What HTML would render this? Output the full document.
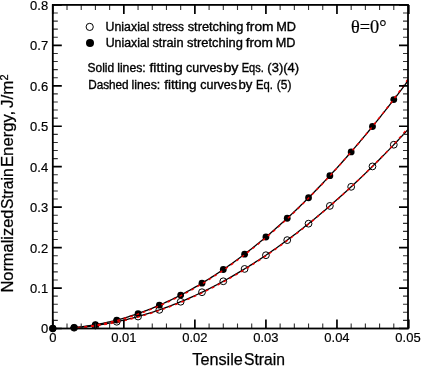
<!DOCTYPE html><html><head><meta charset="utf-8"><style>html,body{margin:0;padding:0;background:#fff;}svg{display:block}</style></head><body>
<svg width="421" height="366" viewBox="0 0 421 366">
<rect width="421" height="366" fill="#fff"/>
<circle cx="52.80" cy="328.50" r="3.4" fill="none" stroke="#000" stroke-width="1"/>
<circle cx="74.11" cy="327.74" r="3.4" fill="none" stroke="#000" stroke-width="1"/>
<circle cx="95.42" cy="325.49" r="3.4" fill="none" stroke="#000" stroke-width="1"/>
<circle cx="116.74" cy="321.75" r="3.4" fill="none" stroke="#000" stroke-width="1"/>
<circle cx="138.05" cy="316.53" r="3.4" fill="none" stroke="#000" stroke-width="1"/>
<circle cx="159.36" cy="309.86" r="3.4" fill="none" stroke="#000" stroke-width="1"/>
<circle cx="180.67" cy="301.75" r="3.4" fill="none" stroke="#000" stroke-width="1"/>
<circle cx="201.98" cy="292.22" r="3.4" fill="none" stroke="#000" stroke-width="1"/>
<circle cx="223.30" cy="281.27" r="3.4" fill="none" stroke="#000" stroke-width="1"/>
<circle cx="244.61" cy="268.93" r="3.4" fill="none" stroke="#000" stroke-width="1"/>
<circle cx="265.92" cy="255.21" r="3.4" fill="none" stroke="#000" stroke-width="1"/>
<circle cx="287.23" cy="240.12" r="3.4" fill="none" stroke="#000" stroke-width="1"/>
<circle cx="308.54" cy="223.68" r="3.4" fill="none" stroke="#000" stroke-width="1"/>
<circle cx="329.86" cy="205.91" r="3.4" fill="none" stroke="#000" stroke-width="1"/>
<circle cx="351.17" cy="186.82" r="3.4" fill="none" stroke="#000" stroke-width="1"/>
<circle cx="372.48" cy="166.42" r="3.4" fill="none" stroke="#000" stroke-width="1"/>
<circle cx="393.79" cy="144.73" r="3.4" fill="none" stroke="#000" stroke-width="1"/>
<circle cx="52.80" cy="328.50" r="3.4" fill="#000"/>
<circle cx="74.11" cy="327.55" r="3.4" fill="#000"/>
<circle cx="95.42" cy="324.73" r="3.4" fill="#000"/>
<circle cx="116.74" cy="320.05" r="3.4" fill="#000"/>
<circle cx="138.05" cy="313.54" r="3.4" fill="#000"/>
<circle cx="159.36" cy="305.20" r="3.4" fill="#000"/>
<circle cx="180.67" cy="295.08" r="3.4" fill="#000"/>
<circle cx="201.98" cy="283.17" r="3.4" fill="#000"/>
<circle cx="223.30" cy="269.52" r="3.4" fill="#000"/>
<circle cx="244.61" cy="254.13" r="3.4" fill="#000"/>
<circle cx="265.92" cy="237.02" r="3.4" fill="#000"/>
<circle cx="287.23" cy="218.23" r="3.4" fill="#000"/>
<circle cx="308.54" cy="197.76" r="3.4" fill="#000"/>
<circle cx="329.86" cy="175.64" r="3.4" fill="#000"/>
<circle cx="351.17" cy="151.88" r="3.4" fill="#000"/>
<circle cx="372.48" cy="126.52" r="3.4" fill="#000"/>
<circle cx="393.79" cy="99.57" r="3.4" fill="#000"/>
<path d="M70.56,327.84 L72.26,327.71 L73.95,327.57 L75.65,327.41 L77.34,327.25 L79.04,327.07 L80.73,326.88 L82.43,326.68 L84.13,326.46 L85.82,326.23 L87.52,326.00 L89.21,325.75 L90.91,325.49 L92.60,325.21 L94.30,324.93 L96.00,324.63 L97.69,324.32 L99.39,324.00 L101.08,323.67 L102.78,323.33 L104.47,322.97 L106.17,322.60 L107.86,322.22 L109.56,321.83 L111.26,321.43 L112.95,321.02 L114.65,320.59 L116.34,320.15 L118.04,319.71 L119.73,319.25 L121.43,318.77 L123.13,318.29 L124.82,317.79 L126.52,317.29 L128.21,316.77 L129.91,316.24 L131.60,315.70 L133.30,315.15 L135.00,314.58 L136.69,314.00 L138.39,313.42 L140.08,312.82 L141.78,312.21 L143.47,311.59 L145.17,310.95 L146.87,310.31 L148.56,309.65 L150.26,308.98 L151.95,308.30 L153.65,307.61 L155.34,306.91 L157.04,306.20 L158.74,305.47 L160.43,304.74 L162.13,303.99 L163.82,303.23 L165.52,302.46 L167.21,301.68 L168.91,300.89 L170.61,300.08 L172.30,299.27 L174.00,298.44 L175.69,297.60 L177.39,296.75 L179.08,295.89 L180.78,295.02 L182.47,294.14 L184.17,293.24 L185.87,292.34 L187.56,291.42 L189.26,290.49 L190.95,289.56 L192.65,288.60 L194.34,287.64 L196.04,286.67 L197.74,285.69 L199.43,284.69 L201.13,283.69 L202.82,282.67 L204.52,281.64 L206.21,280.60 L207.91,279.55 L209.61,278.49 L211.30,277.42 L213.00,276.34 L214.69,275.24 L216.39,274.14 L218.08,273.02 L219.78,271.89 L221.48,270.75 L223.17,269.60 L224.87,268.44 L226.56,267.27 L228.26,266.09 L229.95,264.90 L231.65,263.69 L233.35,262.48 L235.04,261.25 L236.74,260.01 L238.43,258.76 L240.13,257.51 L241.82,256.24 L243.52,254.96 L245.21,253.66 L246.91,252.36 L248.61,251.05 L250.30,249.72 L252.00,248.39 L253.69,247.04 L255.39,245.69 L257.08,244.32 L258.78,242.94 L260.48,241.55 L262.17,240.16 L263.87,238.75 L265.56,237.32 L267.26,235.89 L268.95,234.45 L270.65,233.00 L272.35,231.53 L274.04,230.06 L275.74,228.57 L277.43,227.08 L279.13,225.57 L280.82,224.06 L282.52,222.53 L284.22,220.99 L285.91,219.44 L287.61,217.88 L289.30,216.31 L291.00,214.73 L292.69,213.14 L294.39,211.54 L296.09,209.93 L297.78,208.30 L299.48,206.67 L301.17,205.03 L302.87,203.37 L304.56,201.71 L306.26,200.03 L307.95,198.35 L309.65,196.65 L311.35,194.94 L313.04,193.23 L314.74,191.50 L316.43,189.76 L318.13,188.01 L319.82,186.25 L321.52,184.48 L323.22,182.71 L324.91,180.92 L326.61,179.11 L328.30,177.30 L330.00,175.48 L331.69,173.65 L333.39,171.81 L335.09,169.96 L336.78,168.10 L338.48,166.22 L340.17,164.34 L341.87,162.45 L343.56,160.55 L345.26,158.63 L346.96,156.71 L348.65,154.77 L350.35,152.83 L352.04,150.88 L353.74,148.91 L355.43,146.94 L357.13,144.95 L358.83,142.96 L360.52,140.95 L362.22,138.94 L363.91,136.91 L365.61,134.87 L367.30,132.83 L369.00,130.77 L370.70,128.71 L372.39,126.63 L374.09,124.55 L375.78,122.45 L377.48,120.34 L379.17,118.23 L380.87,116.10 L382.56,113.96 L384.26,111.82 L385.96,109.66 L387.65,107.50 L389.35,105.32 L391.04,103.13 L392.74,100.94 L394.43,98.73 L396.13,96.52 L397.83,94.29 L399.52,92.05 L401.22,89.81 L402.91,87.55 L404.61,85.29 L406.30,83.01 L408.00,80.73" fill="none" stroke="#000" stroke-width="1.3"/>
<path d="M70.56,327.98 L72.26,327.87 L73.95,327.76 L75.65,327.63 L77.34,327.50 L79.04,327.36 L80.73,327.20 L82.43,327.04 L84.13,326.87 L85.82,326.69 L87.52,326.50 L89.21,326.30 L90.91,326.09 L92.60,325.87 L94.30,325.64 L96.00,325.41 L97.69,325.16 L99.39,324.90 L101.08,324.64 L102.78,324.36 L104.47,324.08 L106.17,323.79 L107.86,323.48 L109.56,323.17 L111.26,322.85 L112.95,322.52 L114.65,322.18 L116.34,321.83 L118.04,321.47 L119.73,321.10 L121.43,320.72 L123.13,320.34 L124.82,319.94 L126.52,319.54 L128.21,319.12 L129.91,318.70 L131.60,318.26 L133.30,317.82 L135.00,317.37 L136.69,316.91 L138.39,316.44 L140.08,315.96 L141.78,315.47 L143.47,314.97 L145.17,314.47 L146.87,313.95 L148.56,313.42 L150.26,312.89 L151.95,312.35 L153.65,311.79 L155.34,311.23 L157.04,310.66 L158.74,310.08 L160.43,309.49 L162.13,308.89 L163.82,308.28 L165.52,307.67 L167.21,307.04 L168.91,306.41 L170.61,305.76 L172.30,305.11 L174.00,304.45 L175.69,303.78 L177.39,303.10 L179.08,302.41 L180.78,301.71 L182.47,301.00 L184.17,300.29 L185.87,299.56 L187.56,298.83 L189.26,298.08 L190.95,297.33 L192.65,296.57 L194.34,295.80 L196.04,295.02 L197.74,294.23 L199.43,293.44 L201.13,292.63 L202.82,291.81 L204.52,290.99 L206.21,290.16 L207.91,289.32 L209.61,288.47 L211.30,287.61 L213.00,286.74 L214.69,285.86 L216.39,284.97 L218.08,284.08 L219.78,283.18 L221.48,282.26 L223.17,281.34 L224.87,280.41 L226.56,279.47 L228.26,278.52 L229.95,277.57 L231.65,276.60 L233.35,275.63 L235.04,274.64 L236.74,273.65 L238.43,272.65 L240.13,271.64 L241.82,270.62 L243.52,269.60 L245.21,268.56 L246.91,267.52 L248.61,266.46 L250.30,265.40 L252.00,264.33 L253.69,263.25 L255.39,262.16 L257.08,261.06 L258.78,259.96 L260.48,258.85 L262.17,257.72 L263.87,256.59 L265.56,255.45 L267.26,254.30 L268.95,253.14 L270.65,251.98 L272.35,250.80 L274.04,249.62 L275.74,248.43 L277.43,247.23 L279.13,246.02 L280.82,244.80 L282.52,243.57 L284.22,242.34 L285.91,241.10 L287.61,239.84 L289.30,238.58 L291.00,237.31 L292.69,236.04 L294.39,234.75 L296.09,233.46 L297.78,232.15 L299.48,230.84 L301.17,229.52 L302.87,228.19 L304.56,226.86 L306.26,225.51 L307.95,224.16 L309.65,222.79 L311.35,221.42 L313.04,220.04 L314.74,218.65 L316.43,217.26 L318.13,215.85 L319.82,214.44 L321.52,213.02 L323.22,211.59 L324.91,210.15 L326.61,208.70 L328.30,207.25 L330.00,205.79 L331.69,204.31 L333.39,202.83 L335.09,201.35 L336.78,199.85 L338.48,198.34 L340.17,196.83 L341.87,195.31 L343.56,193.78 L345.26,192.24 L346.96,190.69 L348.65,189.14 L350.35,187.58 L352.04,186.00 L353.74,184.42 L355.43,182.84 L357.13,181.24 L358.83,179.64 L360.52,178.02 L362.22,176.40 L363.91,174.77 L365.61,173.14 L367.30,171.49 L369.00,169.84 L370.70,168.17 L372.39,166.50 L374.09,164.83 L375.78,163.14 L377.48,161.45 L379.17,159.74 L380.87,158.03 L382.56,156.31 L384.26,154.59 L385.96,152.85 L387.65,151.11 L389.35,149.36 L391.04,147.60 L392.74,145.83 L394.43,144.05 L396.13,142.27 L397.83,140.48 L399.52,138.68 L401.22,136.87 L402.91,135.05 L404.61,133.23 L406.30,131.40 L408.00,129.56" fill="none" stroke="#000" stroke-width="1.3"/>
<path d="M77.66,327.61 L79.32,327.44 L80.98,327.26 L82.64,327.07 L84.30,326.86 L85.96,326.65 L87.62,326.42 L89.28,326.18 L90.94,325.93 L92.60,325.67 L94.26,325.40 L95.92,325.12 L97.58,324.82 L99.24,324.52 L100.90,324.20 L102.56,323.87 L104.22,323.53 L105.88,323.17 L107.54,322.81 L109.20,322.43 L110.86,322.04 L112.52,321.64 L114.18,321.23 L115.84,320.81 L117.50,320.38 L119.16,319.94 L120.82,319.48 L122.48,319.01 L124.14,318.54 L125.80,318.05 L127.46,317.55 L129.12,317.04 L130.78,316.52 L132.44,315.99 L134.10,315.44 L135.76,314.89 L137.42,314.32 L139.08,313.75 L140.74,313.16 L142.40,312.56 L144.06,311.95 L145.72,311.33 L147.38,310.70 L149.04,310.06 L150.70,309.40 L152.36,308.74 L154.02,308.06 L155.68,307.38 L157.34,306.68 L159.00,305.97 L160.66,305.25 L162.32,304.52 L163.98,303.78 L165.64,303.03 L167.30,302.27 L168.96,301.50 L170.62,300.71 L172.28,299.92 L173.94,299.11 L175.60,298.29 L177.26,297.47 L178.92,296.63 L180.58,295.78 L182.24,294.92 L183.90,294.05 L185.56,293.17 L187.22,292.28 L188.88,291.37 L190.54,290.46 L192.20,289.54 L193.86,288.60 L195.52,287.66 L197.18,286.70 L198.84,285.73 L200.50,284.76 L202.16,283.77 L203.82,282.76 L205.48,281.75 L207.14,280.72 L208.80,279.69 L210.46,278.64 L212.12,277.58 L213.78,276.52 L215.44,275.44 L217.10,274.35 L218.76,273.25 L220.42,272.14 L222.08,271.02 L223.74,269.89 L225.40,268.75 L227.06,267.59 L228.72,266.43 L230.38,265.26 L232.04,264.08 L233.70,262.88 L235.36,261.68 L237.02,260.46 L238.68,259.24 L240.34,258.00 L242.00,256.75 L243.66,255.50 L245.32,254.23 L246.98,252.95 L248.64,251.67 L250.30,250.37 L251.96,249.06 L253.62,247.74 L255.28,246.41 L256.94,245.07 L258.60,243.72 L260.26,242.36 L261.92,240.99 L263.58,239.61 L265.24,238.22 L266.90,236.82 L268.56,235.41 L270.22,233.99 L271.88,232.55 L273.54,231.11 L275.20,229.66 L276.86,228.20 L278.52,226.72 L280.18,225.24 L281.84,223.75 L283.50,222.24 L285.16,220.73 L286.82,219.21 L288.48,217.66 L290.14,216.11 L291.80,214.54 L293.46,212.96 L295.12,211.38 L296.78,209.78 L298.44,208.17 L300.10,206.56 L301.76,204.93 L303.42,203.29 L305.08,201.65 L306.74,199.99 L308.40,198.32 L310.06,196.64 L311.72,194.96 L313.38,193.26 L315.04,191.55 L316.70,189.84 L318.36,188.11 L320.02,186.37 L321.68,184.63 L323.34,182.87 L325.00,181.10 L326.66,179.32 L328.32,177.54 L329.98,175.74 L331.64,173.94 L333.30,172.12 L334.96,170.29 L336.62,168.46 L338.28,166.61 L339.94,164.75 L341.60,162.89 L343.26,161.01 L344.92,159.13 L346.58,157.23 L348.24,155.33 L349.90,153.41 L351.56,151.49 L353.22,149.55 L354.88,147.61 L356.54,145.66 L358.20,143.69 L359.86,141.72 L361.52,139.74 L363.18,137.74 L364.84,135.74 L366.50,133.73 L368.16,131.71 L369.82,129.68 L371.48,127.64 L373.14,125.58 L374.80,123.52 L376.46,121.45 L378.12,119.37 L379.78,117.29 L381.44,115.19 L383.10,113.08 L384.76,110.96 L386.42,108.83 L388.08,106.70 L389.74,104.55 L391.40,102.39 L393.06,100.23 L394.72,97.97 L396.38,95.65 L398.04,93.32 L399.70,90.98 L401.36,88.63 L403.02,86.27 L404.68,83.89 L406.34,81.52 L408.00,79.13" fill="none" stroke="#e00" stroke-width="1.45" stroke-dasharray="2.9 3.8"/>
<path d="M77.66,327.87 L79.32,327.74 L80.98,327.59 L82.64,327.44 L84.30,327.28 L85.96,327.11 L87.62,326.93 L89.28,326.74 L90.94,326.54 L92.60,326.33 L94.26,326.12 L95.92,325.89 L97.58,325.66 L99.24,325.41 L100.90,325.16 L102.56,324.90 L104.22,324.63 L105.88,324.34 L107.54,324.05 L109.20,323.75 L110.86,323.44 L112.52,323.12 L114.18,322.80 L115.84,322.46 L117.50,322.11 L119.16,321.76 L120.82,321.40 L122.48,321.02 L124.14,320.64 L125.80,320.25 L127.46,319.85 L129.12,319.45 L130.78,319.03 L132.44,318.61 L134.10,318.17 L135.76,317.73 L137.42,317.28 L139.08,316.82 L140.74,316.35 L142.40,315.87 L144.06,315.38 L145.72,314.88 L147.38,314.38 L149.04,313.87 L150.70,313.34 L152.36,312.81 L154.02,312.27 L155.68,311.72 L157.34,311.17 L159.00,310.60 L160.66,310.03 L162.32,309.44 L163.98,308.85 L165.64,308.25 L167.30,307.64 L168.96,307.02 L170.62,306.39 L172.28,305.76 L173.94,305.11 L175.60,304.46 L177.26,303.80 L178.92,303.13 L180.58,302.45 L182.24,301.76 L183.90,301.06 L185.56,300.36 L187.22,299.64 L188.88,298.92 L190.54,298.19 L192.20,297.45 L193.86,296.70 L195.52,295.95 L197.18,295.18 L198.84,294.41 L200.50,293.62 L202.16,292.83 L203.82,292.03 L205.48,291.21 L207.14,290.39 L208.80,289.56 L210.46,288.72 L212.12,287.88 L213.78,287.02 L215.44,286.15 L217.10,285.28 L218.76,284.40 L220.42,283.51 L222.08,282.61 L223.74,281.70 L225.40,280.79 L227.06,279.86 L228.72,278.93 L230.38,277.99 L232.04,277.04 L233.70,276.08 L235.36,275.12 L237.02,274.14 L238.68,273.16 L240.34,272.17 L242.00,271.17 L243.66,270.16 L245.32,269.14 L246.98,268.12 L248.64,267.08 L250.30,266.04 L251.96,264.99 L253.62,263.93 L255.28,262.87 L256.94,261.79 L258.60,260.71 L260.26,259.62 L261.92,258.52 L263.58,257.41 L265.24,256.29 L266.90,255.17 L268.56,254.03 L270.22,252.89 L271.88,251.74 L273.54,250.59 L275.20,249.42 L276.86,248.25 L278.52,247.06 L280.18,245.87 L281.84,244.67 L283.50,243.46 L285.16,242.25 L286.82,241.03 L288.48,239.78 L290.14,238.53 L291.80,237.27 L293.46,236.00 L295.12,234.73 L296.78,233.44 L298.44,232.15 L300.10,230.85 L301.76,229.54 L303.42,228.22 L305.08,226.89 L306.74,225.56 L308.40,224.22 L310.06,222.87 L311.72,221.51 L313.38,220.15 L315.04,218.77 L316.70,217.39 L318.36,216.00 L320.02,214.60 L321.68,213.19 L323.34,211.78 L325.00,210.36 L326.66,208.93 L328.32,207.49 L329.98,206.04 L331.64,204.59 L333.30,203.12 L334.96,201.65 L336.62,200.17 L338.28,198.69 L339.94,197.19 L341.60,195.69 L343.26,194.18 L344.92,192.66 L346.58,191.13 L348.24,189.60 L349.90,188.06 L351.56,186.51 L353.22,184.95 L354.88,183.38 L356.54,181.81 L358.20,180.23 L359.86,178.64 L361.52,177.04 L363.18,175.44 L364.84,173.82 L366.50,172.20 L368.16,170.57 L369.82,168.94 L371.48,167.29 L373.14,165.64 L374.80,163.98 L376.46,162.31 L378.12,160.63 L379.78,158.95 L381.44,157.26 L383.10,155.56 L384.76,153.85 L386.42,152.14 L388.08,150.41 L389.74,148.68 L391.40,146.94 L393.06,145.20 L394.72,143.37 L396.38,141.47 L398.04,139.56 L399.70,137.65 L401.36,135.72 L403.02,133.79 L404.68,131.86 L406.34,129.91 L408.00,127.96" fill="none" stroke="#e00" stroke-width="1.45" stroke-dasharray="2.9 3.8"/>
<path d="M52.80,328.5 v-9 M52.80,4.9 v9" stroke="#000" stroke-width="1.7"/>
<path d="M67.01,328.5 v-5 M67.01,4.9 v5" stroke="#333" stroke-width="1.1"/>
<path d="M81.22,328.5 v-5 M81.22,4.9 v5" stroke="#333" stroke-width="1.1"/>
<path d="M95.42,328.5 v-5 M95.42,4.9 v5" stroke="#333" stroke-width="1.1"/>
<path d="M109.63,328.5 v-5 M109.63,4.9 v5" stroke="#333" stroke-width="1.1"/>
<path d="M123.84,328.5 v-9 M123.84,4.9 v9" stroke="#000" stroke-width="1.7"/>
<path d="M138.05,328.5 v-5 M138.05,4.9 v5" stroke="#333" stroke-width="1.1"/>
<path d="M152.26,328.5 v-5 M152.26,4.9 v5" stroke="#333" stroke-width="1.1"/>
<path d="M166.46,328.5 v-5 M166.46,4.9 v5" stroke="#333" stroke-width="1.1"/>
<path d="M180.67,328.5 v-5 M180.67,4.9 v5" stroke="#333" stroke-width="1.1"/>
<path d="M194.88,328.5 v-9 M194.88,4.9 v9" stroke="#000" stroke-width="1.7"/>
<path d="M209.09,328.5 v-5 M209.09,4.9 v5" stroke="#333" stroke-width="1.1"/>
<path d="M223.30,328.5 v-5 M223.30,4.9 v5" stroke="#333" stroke-width="1.1"/>
<path d="M237.50,328.5 v-5 M237.50,4.9 v5" stroke="#333" stroke-width="1.1"/>
<path d="M251.71,328.5 v-5 M251.71,4.9 v5" stroke="#333" stroke-width="1.1"/>
<path d="M265.92,328.5 v-9 M265.92,4.9 v9" stroke="#000" stroke-width="1.7"/>
<path d="M280.13,328.5 v-5 M280.13,4.9 v5" stroke="#333" stroke-width="1.1"/>
<path d="M294.34,328.5 v-5 M294.34,4.9 v5" stroke="#333" stroke-width="1.1"/>
<path d="M308.54,328.5 v-5 M308.54,4.9 v5" stroke="#333" stroke-width="1.1"/>
<path d="M322.75,328.5 v-5 M322.75,4.9 v5" stroke="#333" stroke-width="1.1"/>
<path d="M336.96,328.5 v-9 M336.96,4.9 v9" stroke="#000" stroke-width="1.7"/>
<path d="M351.17,328.5 v-5 M351.17,4.9 v5" stroke="#333" stroke-width="1.1"/>
<path d="M365.38,328.5 v-5 M365.38,4.9 v5" stroke="#333" stroke-width="1.1"/>
<path d="M379.58,328.5 v-5 M379.58,4.9 v5" stroke="#333" stroke-width="1.1"/>
<path d="M393.79,328.5 v-5 M393.79,4.9 v5" stroke="#333" stroke-width="1.1"/>
<path d="M408.80,328.5 v-9 M408.80,4.9 v9" stroke="#000" stroke-width="1.7"/>
<path d="M52.8,328.50 h9 M408.0,328.50 h-9" stroke="#000" stroke-width="1.7"/>
<path d="M52.8,320.41 h5 M408.0,320.41 h-5" stroke="#333" stroke-width="1.1"/>
<path d="M52.8,312.32 h5 M408.0,312.32 h-5" stroke="#333" stroke-width="1.1"/>
<path d="M52.8,304.23 h5 M408.0,304.23 h-5" stroke="#333" stroke-width="1.1"/>
<path d="M52.8,296.14 h5 M408.0,296.14 h-5" stroke="#333" stroke-width="1.1"/>
<path d="M52.8,288.05 h9 M408.0,288.05 h-9" stroke="#000" stroke-width="1.7"/>
<path d="M52.8,279.96 h5 M408.0,279.96 h-5" stroke="#333" stroke-width="1.1"/>
<path d="M52.8,271.87 h5 M408.0,271.87 h-5" stroke="#333" stroke-width="1.1"/>
<path d="M52.8,263.78 h5 M408.0,263.78 h-5" stroke="#333" stroke-width="1.1"/>
<path d="M52.8,255.69 h5 M408.0,255.69 h-5" stroke="#333" stroke-width="1.1"/>
<path d="M52.8,247.60 h9 M408.0,247.60 h-9" stroke="#000" stroke-width="1.7"/>
<path d="M52.8,239.51 h5 M408.0,239.51 h-5" stroke="#333" stroke-width="1.1"/>
<path d="M52.8,231.42 h5 M408.0,231.42 h-5" stroke="#333" stroke-width="1.1"/>
<path d="M52.8,223.33 h5 M408.0,223.33 h-5" stroke="#333" stroke-width="1.1"/>
<path d="M52.8,215.24 h5 M408.0,215.24 h-5" stroke="#333" stroke-width="1.1"/>
<path d="M52.8,207.15 h9 M408.0,207.15 h-9" stroke="#000" stroke-width="1.7"/>
<path d="M52.8,199.06 h5 M408.0,199.06 h-5" stroke="#333" stroke-width="1.1"/>
<path d="M52.8,190.97 h5 M408.0,190.97 h-5" stroke="#333" stroke-width="1.1"/>
<path d="M52.8,182.88 h5 M408.0,182.88 h-5" stroke="#333" stroke-width="1.1"/>
<path d="M52.8,174.79 h5 M408.0,174.79 h-5" stroke="#333" stroke-width="1.1"/>
<path d="M52.8,166.70 h9 M408.0,166.70 h-9" stroke="#000" stroke-width="1.7"/>
<path d="M52.8,158.61 h5 M408.0,158.61 h-5" stroke="#333" stroke-width="1.1"/>
<path d="M52.8,150.52 h5 M408.0,150.52 h-5" stroke="#333" stroke-width="1.1"/>
<path d="M52.8,142.43 h5 M408.0,142.43 h-5" stroke="#333" stroke-width="1.1"/>
<path d="M52.8,134.34 h5 M408.0,134.34 h-5" stroke="#333" stroke-width="1.1"/>
<path d="M52.8,126.25 h9 M408.0,126.25 h-9" stroke="#000" stroke-width="1.7"/>
<path d="M52.8,118.16 h5 M408.0,118.16 h-5" stroke="#333" stroke-width="1.1"/>
<path d="M52.8,110.07 h5 M408.0,110.07 h-5" stroke="#333" stroke-width="1.1"/>
<path d="M52.8,101.98 h5 M408.0,101.98 h-5" stroke="#333" stroke-width="1.1"/>
<path d="M52.8,93.89 h5 M408.0,93.89 h-5" stroke="#333" stroke-width="1.1"/>
<path d="M52.8,85.80 h9 M408.0,85.80 h-9" stroke="#000" stroke-width="1.7"/>
<path d="M52.8,77.71 h5 M408.0,77.71 h-5" stroke="#333" stroke-width="1.1"/>
<path d="M52.8,69.62 h5 M408.0,69.62 h-5" stroke="#333" stroke-width="1.1"/>
<path d="M52.8,61.53 h5 M408.0,61.53 h-5" stroke="#333" stroke-width="1.1"/>
<path d="M52.8,53.44 h5 M408.0,53.44 h-5" stroke="#333" stroke-width="1.1"/>
<path d="M52.8,45.35 h9 M408.0,45.35 h-9" stroke="#000" stroke-width="1.7"/>
<path d="M52.8,37.26 h5 M408.0,37.26 h-5" stroke="#333" stroke-width="1.1"/>
<path d="M52.8,29.17 h5 M408.0,29.17 h-5" stroke="#333" stroke-width="1.1"/>
<path d="M52.8,21.08 h5 M408.0,21.08 h-5" stroke="#333" stroke-width="1.1"/>
<path d="M52.8,12.99 h5 M408.0,12.99 h-5" stroke="#333" stroke-width="1.1"/>
<path d="M52.8,4.90 h9 M408.0,4.90 h-9" stroke="#000" stroke-width="1.7"/>
<rect x="52.8" y="4.9" width="355.2" height="323.6" fill="none" stroke="#000" stroke-width="1.8"/>
<text x="48.2" y="333.40" text-anchor="end" font-family="Liberation Sans, Arial, sans-serif" font-size="13" stroke="#000" stroke-width="0.18">0</text>
<text x="48.2" y="292.95" text-anchor="end" font-family="Liberation Sans, Arial, sans-serif" font-size="13" stroke="#000" stroke-width="0.18">0.1</text>
<text x="48.2" y="252.50" text-anchor="end" font-family="Liberation Sans, Arial, sans-serif" font-size="13" stroke="#000" stroke-width="0.18">0.2</text>
<text x="48.2" y="212.05" text-anchor="end" font-family="Liberation Sans, Arial, sans-serif" font-size="13" stroke="#000" stroke-width="0.18">0.3</text>
<text x="48.2" y="171.60" text-anchor="end" font-family="Liberation Sans, Arial, sans-serif" font-size="13" stroke="#000" stroke-width="0.18">0.4</text>
<text x="48.2" y="131.15" text-anchor="end" font-family="Liberation Sans, Arial, sans-serif" font-size="13" stroke="#000" stroke-width="0.18">0.5</text>
<text x="48.2" y="90.70" text-anchor="end" font-family="Liberation Sans, Arial, sans-serif" font-size="13" stroke="#000" stroke-width="0.18">0.6</text>
<text x="48.2" y="50.25" text-anchor="end" font-family="Liberation Sans, Arial, sans-serif" font-size="13" stroke="#000" stroke-width="0.18">0.7</text>
<text x="48.2" y="9.80" text-anchor="end" font-family="Liberation Sans, Arial, sans-serif" font-size="13" stroke="#000" stroke-width="0.18">0.8</text>
<text x="52.80" y="342.0" text-anchor="middle" font-family="Liberation Sans, Arial, sans-serif" font-size="13" stroke="#000" stroke-width="0.18">0</text>
<text x="123.84" y="342.0" text-anchor="middle" font-family="Liberation Sans, Arial, sans-serif" font-size="13" stroke="#000" stroke-width="0.18">0.01</text>
<text x="194.88" y="342.0" text-anchor="middle" font-family="Liberation Sans, Arial, sans-serif" font-size="13" stroke="#000" stroke-width="0.18">0.02</text>
<text x="265.92" y="342.0" text-anchor="middle" font-family="Liberation Sans, Arial, sans-serif" font-size="13" stroke="#000" stroke-width="0.18">0.03</text>
<text x="336.96" y="342.0" text-anchor="middle" font-family="Liberation Sans, Arial, sans-serif" font-size="13" stroke="#000" stroke-width="0.18">0.04</text>
<text x="408.00" y="342.0" text-anchor="middle" font-family="Liberation Sans, Arial, sans-serif" font-size="13" stroke="#000" stroke-width="0.18">0.05</text>
<text x="192.3" y="364.6" font-family="Liberation Sans, Arial, sans-serif" font-size="15.8" stroke="#000" stroke-width="0.25" textLength="50.6" lengthAdjust="spacingAndGlyphs">Tensile</text>
<text x="244.0" y="364.6" font-family="Liberation Sans, Arial, sans-serif" font-size="15.8" stroke="#000" stroke-width="0.25" textLength="41.0" lengthAdjust="spacingAndGlyphs">Strain</text>
<text transform="translate(13.3,292.6) rotate(-90)" font-family="Liberation Sans, Arial, sans-serif" font-size="17.3" stroke="#000" stroke-width="0.25" textLength="83.0" lengthAdjust="spacingAndGlyphs">Normalized</text>
<text transform="translate(13.3,209.0) rotate(-90)" font-family="Liberation Sans, Arial, sans-serif" font-size="17.3" stroke="#000" stroke-width="0.25" textLength="40.6" lengthAdjust="spacingAndGlyphs">Strain</text>
<text transform="translate(13.3,167.0) rotate(-90)" font-family="Liberation Sans, Arial, sans-serif" font-size="17.3" stroke="#000" stroke-width="0.25" textLength="56.2" lengthAdjust="spacingAndGlyphs">Energy,</text>
<text transform="translate(13.3,108.0) rotate(-90)" font-family="Liberation Sans, Arial, sans-serif" font-size="17.3" stroke="#000" stroke-width="0.25" textLength="27.4" lengthAdjust="spacingAndGlyphs">J/m</text>
<text transform="translate(8.2,80.6) rotate(-90)" font-family="Liberation Sans, Arial, sans-serif" font-size="11" stroke="#000" stroke-width="0.25">2</text>
<circle cx="89.7" cy="26.9" r="3.6" fill="#fff" stroke="#000" stroke-width="1"/>
<circle cx="90" cy="43.1" r="4" fill="#000"/>
<text x="105.55" y="30.8" font-family="Liberation Sans, Arial, sans-serif" font-size="12.3" stroke="#000" stroke-width="0.35" lengthAdjust="spacingAndGlyphs" textLength="43.95">Uniaxial</text>
<text x="152.40" y="30.8" font-family="Liberation Sans, Arial, sans-serif" font-size="12.3" stroke="#000" stroke-width="0.35" lengthAdjust="spacingAndGlyphs" textLength="31.50">stress</text>
<text x="187.70" y="30.8" font-family="Liberation Sans, Arial, sans-serif" font-size="12.3" stroke="#000" stroke-width="0.35" lengthAdjust="spacingAndGlyphs" textLength="55.60">stretching</text>
<text x="246.00" y="30.8" font-family="Liberation Sans, Arial, sans-serif" font-size="12.3" stroke="#000" stroke-width="0.35" lengthAdjust="spacingAndGlyphs" textLength="27.60">from</text>
<text x="276.20" y="30.8" font-family="Liberation Sans, Arial, sans-serif" font-size="12.3" stroke="#000" stroke-width="0.35" lengthAdjust="spacingAndGlyphs" textLength="19.80">MD</text>
<text x="105.70" y="46.9" font-family="Liberation Sans, Arial, sans-serif" font-size="12.3" stroke="#000" stroke-width="0.35" lengthAdjust="spacingAndGlyphs" textLength="43.80">Uniaxial</text>
<text x="152.40" y="46.9" font-family="Liberation Sans, Arial, sans-serif" font-size="12.3" stroke="#000" stroke-width="0.35" lengthAdjust="spacingAndGlyphs" textLength="31.10">strain</text>
<text x="187.05" y="46.9" font-family="Liberation Sans, Arial, sans-serif" font-size="12.3" stroke="#000" stroke-width="0.35" lengthAdjust="spacingAndGlyphs" textLength="55.90">stretching</text>
<text x="245.65" y="46.9" font-family="Liberation Sans, Arial, sans-serif" font-size="12.3" stroke="#000" stroke-width="0.35" lengthAdjust="spacingAndGlyphs" textLength="27.35">from</text>
<text x="275.70" y="46.9" font-family="Liberation Sans, Arial, sans-serif" font-size="12.3" stroke="#000" stroke-width="0.35" lengthAdjust="spacingAndGlyphs" textLength="19.70">MD</text>
<text x="87.50" y="71.8" font-family="Liberation Sans, Arial, sans-serif" font-size="12.3" stroke="#000" stroke-width="0.35" lengthAdjust="spacingAndGlyphs" textLength="26.70">Solid</text>
<text x="117.20" y="71.8" font-family="Liberation Sans, Arial, sans-serif" font-size="12.3" stroke="#000" stroke-width="0.35" lengthAdjust="spacingAndGlyphs" textLength="28.50">lines:</text>
<text x="149.50" y="71.8" font-family="Liberation Sans, Arial, sans-serif" font-size="12.3" stroke="#000" stroke-width="0.35" lengthAdjust="spacingAndGlyphs" textLength="33.15">fitting</text>
<text x="186.10" y="71.8" font-family="Liberation Sans, Arial, sans-serif" font-size="12.3" stroke="#000" stroke-width="0.35" lengthAdjust="spacingAndGlyphs" textLength="36.45">curves</text>
<text x="223.40" y="71.8" font-family="Liberation Sans, Arial, sans-serif" font-size="12.3" stroke="#000" stroke-width="0.35" lengthAdjust="spacingAndGlyphs" textLength="15.10">by</text>
<text x="241.70" y="71.8" font-family="Liberation Sans, Arial, sans-serif" font-size="12.3" stroke="#000" stroke-width="0.35" lengthAdjust="spacingAndGlyphs" textLength="22.05">Eqs.</text>
<text x="267.35" y="71.8" font-family="Liberation Sans, Arial, sans-serif" font-size="12.3" stroke="#000" stroke-width="0.35" lengthAdjust="spacingAndGlyphs" textLength="31.75">(3)(4)</text>
<text x="88.20" y="88.6" font-family="Liberation Sans, Arial, sans-serif" font-size="12.3" stroke="#000" stroke-width="0.35" lengthAdjust="spacingAndGlyphs" textLength="40.45">Dashed</text>
<text x="131.50" y="88.6" font-family="Liberation Sans, Arial, sans-serif" font-size="12.3" stroke="#000" stroke-width="0.35" lengthAdjust="spacingAndGlyphs" textLength="28.75">lines:</text>
<text x="164.30" y="88.6" font-family="Liberation Sans, Arial, sans-serif" font-size="12.3" stroke="#000" stroke-width="0.35" lengthAdjust="spacingAndGlyphs" textLength="32.35">fitting</text>
<text x="200.25" y="88.6" font-family="Liberation Sans, Arial, sans-serif" font-size="12.3" stroke="#000" stroke-width="0.35" lengthAdjust="spacingAndGlyphs" textLength="36.70">curves</text>
<text x="238.50" y="88.6" font-family="Liberation Sans, Arial, sans-serif" font-size="12.3" stroke="#000" stroke-width="0.35" lengthAdjust="spacingAndGlyphs" textLength="13.90">by</text>
<text x="256.05" y="88.6" font-family="Liberation Sans, Arial, sans-serif" font-size="12.3" stroke="#000" stroke-width="0.35" lengthAdjust="spacingAndGlyphs" textLength="16.85">Eq.</text>
<text x="276.85" y="88.6" font-family="Liberation Sans, Arial, sans-serif" font-size="12.3" stroke="#000" stroke-width="0.35" lengthAdjust="spacingAndGlyphs" textLength="14.60">(5)</text>
<text x="351.0" y="33.3" font-family="Liberation Serif, Times New Roman, serif" font-size="19.3" stroke="#000" stroke-width="0.2" textLength="35.6" lengthAdjust="spacingAndGlyphs">θ=0°</text>
</svg></body></html>
